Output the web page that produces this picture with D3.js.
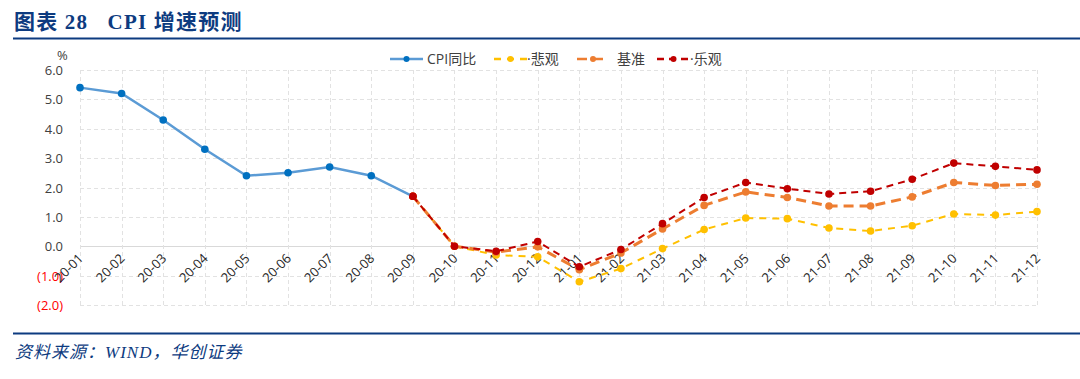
<!DOCTYPE html>
<html>
<head>
<meta charset="utf-8">
<script src="https://cdn.jsdelivr.net/npm/d3@7"></script>
<style>
  body { margin: 0; background: #fff; }
  svg { display: block; }
</style>
</head>
<body>
<div id="chart"></div>
<script>
//data
var months = ["20-01","20-02","20-03","20-04","20-05","20-06","20-07","20-08","20-09","20-10","20-11","20-12",
              "21-01","21-02","21-03","21-04","21-05","21-06","21-07","21-08","21-09","21-10","21-11","21-12"];
var cpi = [5.4, 5.2, 4.3, 3.3, 2.4, 2.5, 2.7, 2.4, 1.7];
// scenarios start at 20-09
var pessimistic = [1.7, 0.0, -0.3, -0.36, -1.21, -0.76, -0.08, 0.57, 0.96, 0.94, 0.62, 0.52, 0.70, 1.10, 1.06, 1.18];
var baseline    = [1.7, 0.0, -0.2, -0.02, -0.8, -0.23, 0.59, 1.39, 1.85, 1.66, 1.37, 1.37, 1.68, 2.17, 2.07, 2.11];
var optimistic  = [1.7, 0.0, -0.17, 0.16, -0.7, -0.11, 0.77, 1.66, 2.17, 1.96, 1.78, 1.87, 2.28, 2.83, 2.72, 2.60];
var yTicks = [6, 5, 4, 3, 2, 1, 0, -1, -2];

var W = 1080, H = 379;
var blue = "#0d3b80";

var svg = d3.select("#chart").append("svg").attr("width", W).attr("height", H);

//header and footer
svg.append("text").attr("x", 14).attr("y", 29)
  .style("font-family", "'Liberation Serif', 'Noto Sans CJK SC', serif")
  .style("font-weight", "bold").style("font-size", "21px").style("fill", blue)
  .style("letter-spacing", "1.2px")
  .text("图表 28\u00a0\u00a0\u00a0CPI 增速预测");
svg.append("line").attr("x1", 13).attr("x2", W).attr("y1", 38.5).attr("y2", 38.5)
  .style("stroke", blue).style("stroke-width", 2);
svg.append("line").attr("x1", 13).attr("x2", W).attr("y1", 333.5).attr("y2", 333.5)
  .style("stroke", blue).style("stroke-width", 2);
svg.append("text").attr("x", 15).attr("y", 358)
  .style("font-family", "'Liberation Serif', 'Noto Sans CJK SC', serif")
  .style("font-style", "italic").style("font-size", "17px").style("fill", blue)
  .style("letter-spacing", "1px")
  .text("资料来源：WIND，华创证券");

//scales
var x = d3.scalePoint().domain(months).range([80, 1037]);
var y = d3.scaleLinear().domain([-2, 6]).range([305, 70]);

var g = svg.append("g");

//grid
g.selectAll(".hgrid").data(yTicks).enter().append("line")
  .attr("x1", 80).attr("x2", 1037)
  .attr("y1", d => Math.round(y(d)) + 0.5).attr("y2", d => Math.round(y(d)) + 0.5)
  .style("stroke", d => d === 0 ? "#d9d9d9" : "#e2e2e2")
  .style("stroke-dasharray", d => d === 0 ? null : "4,3");
g.selectAll(".vgrid").data(months).enter().append("line")
  .attr("x1", d => Math.round(x(d)) + 0.5).attr("x2", d => Math.round(x(d)) + 0.5)
  .attr("y1", y(6)).attr("y2", y(-2))
  .style("stroke", "#e2e2e2").style("stroke-dasharray", "4,3");

//y labels
g.selectAll(".ylab").data(yTicks).enter().append("text")
  .attr("x", 63).attr("y", d => y(d) + 5)
  .attr("text-anchor", "end")
  .style("font-family", "'Open Sans', sans-serif").style("font-size", "13px")
  .style("fill", d => d < 0 ? "#ff0000" : "#404040")
  .text(d => d < 0 ? "(" + d3.format(".1f")(-d) + ")" : d3.format(".1f")(d));
svg.append("text").attr("x", 57).attr("y", 60)
  .style("font-family", "'Open Sans', sans-serif").style("font-size", "13px").style("fill", "#404040")
  .text("%");

//x labels
g.selectAll(".xlab").data(months).enter().append("text")
  .attr("transform", d => "translate(" + (x(d) + 4) + "," + (y(0) + 13) + ") rotate(-45)")
  .attr("text-anchor", "end")
  .style("font-family", "'Open Sans', sans-serif").style("font-size", "13px").style("fill", "#262626")
  .text(d => d);

//series
var scenMonths = months.slice(8);
var series = [
  {name: "悲观", vals: pessimistic, color: "#ffc000", marker: "#ffc000", dash: "7,6", w: 2},
  {name: "基准", vals: baseline, color: "#ed7d31", marker: "#ed7d31", dash: "10,6", w: 3},
  {name: "乐观", vals: optimistic, color: "#c00000", marker: "#c00000", dash: "7,5", w: 2}
];
var line = d3.line().x(d => x(d.m)).y(d => y(d.v));

series.forEach(function(s) {
  var pts = s.vals.map((v, i) => ({m: scenMonths[i], v: v}));
  g.append("path").datum(pts).attr("d", line)
    .style("fill", "none").style("stroke", s.color).style("stroke-width", s.w)
    .style("stroke-dasharray", s.dash);
  g.selectAll(null).data(pts).enter().append("circle")
    .attr("cx", d => x(d.m)).attr("cy", d => y(d.v)).attr("r", 3.8)
    .style("fill", s.marker);
});

var cpiPts = cpi.map((v, i) => ({m: months[i], v: v}));
g.append("path").datum(cpiPts).attr("d", line)
  .style("fill", "none").style("stroke", "#5b9bd5").style("stroke-width", 2.5);
g.selectAll(null).data(cpiPts.slice(0, 8)).enter().append("circle")
  .attr("cx", d => x(d.m)).attr("cy", d => y(d.v)).attr("r", 3.8)
  .style("fill", "#0070c0");
// 20-09 point drawn by optimistic series on top
g.append("circle").attr("cx", x("20-09")).attr("cy", y(1.7)).attr("r", 3.8).style("fill", "#c00000");

//legend
var legend = [
  {name: "CPI同比", color: "#5b9bd5", marker: "#0070c0", dash: null, x1: 390, x2: 423, tx: 427},
  {name: "·悲观", color: "#ffc000", marker: "#ffc000", dash: "7,6", x1: 494, x2: 527, tx: 527},
  {name: "基准", color: "#ed7d31", marker: "#ed7d31", dash: "10,6", x1: 577, x2: 609, tx: 617},
  {name: "·乐观", color: "#c00000", marker: "#c00000", dash: "7,5", x1: 657, x2: 690, tx: 690}
];
var lg = svg.append("g");
legend.forEach(function(l) {
  lg.append("line").attr("x1", l.x1).attr("x2", l.x2).attr("y1", 59).attr("y2", 59)
    .style("stroke", l.color).style("stroke-width", 2.5).style("stroke-dasharray", l.dash);
  lg.append("circle").attr("cx", (l.x1 + l.x2) / 2).attr("cy", 59).attr("r", 3).style("fill", l.marker);
  lg.append("text").attr("x", l.tx).attr("y", 64)
    .style("font-family", "'Open Sans', 'Noto Sans CJK SC', sans-serif").style("font-size", "14px")
    .style("fill", "#404040").text(l.name);
});
</script>
</body>
</html>
